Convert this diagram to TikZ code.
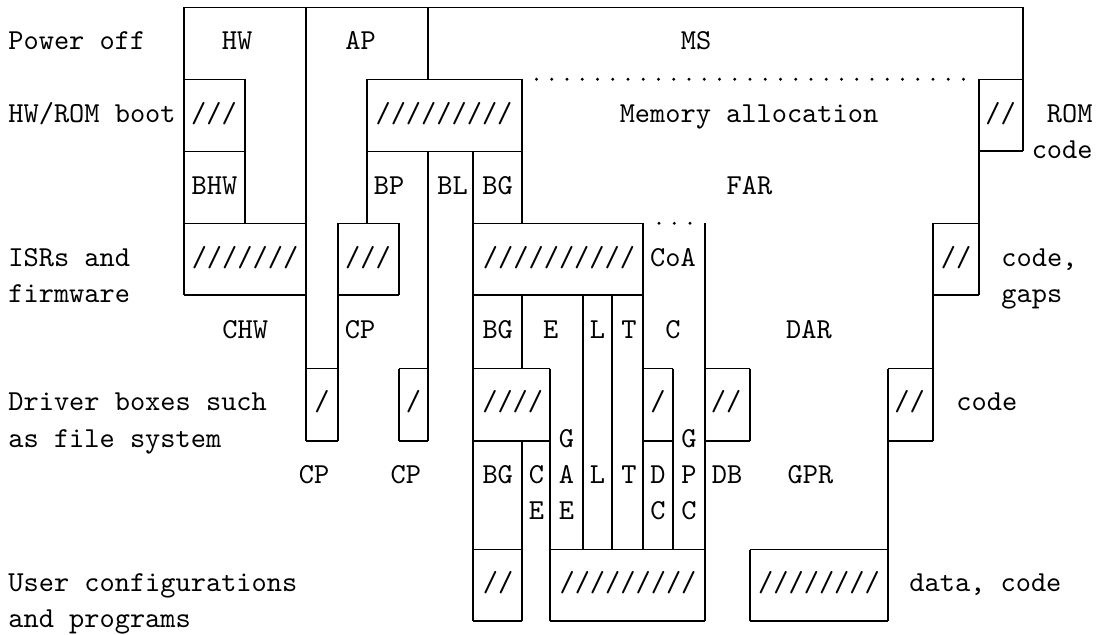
\documentclass[tikz,border=0pt]{standalone}
\usepackage{fontspec}
\newfontfamily\tenmono{lmmono10-regular.otf}
\newcommand\fs{\fontsize{14.48}{18}\selectfont\tenmono}
\begin{document}
\begin{tikzpicture}[x=0.5pt,y=-0.5pt,
  thinln/.style={line width=0.65pt},
  thickln/.style={line width=1.05pt},
  lbl/.style={inner sep=0pt,font=\fs,anchor=base},
  lft/.style={lbl,anchor=base west},
  rgt/.style={lbl,anchor=base east}]
\useasboundingbox (0,0) rectangle (1098,635);
% horizontal thin lines
\draw[thinln] (184,7.3)--(1023,7.3);
\draw[thinln] (184,79.3)--(245,79.3) (367,79.3)--(522,79.3) (979,79.3)--(1023,79.3);
\draw[thinln] (184,151.3)--(245,151.3) (367,151.3)--(522,151.3);
\draw[thinln] (184,223.3)--(306,223.3) (338,223.3)--(399,223.3) (473,223.3)--(643,223.3) (933,223.3)--(979,223.3);
\draw[thinln] (473,295)--(643,295);
\draw[thinln] (306,368.8)--(338,368.8) (399,368.8)--(428,368.8) (473,368.8)--(550,368.8)
  (643,368.8)--(673,368.8) (705,368.8)--(750,368.8) (888,368.8)--(933,368.8);
\draw[thinln] (473,441)--(522,441) (643,441)--(673,441);
\draw[thinln] (473,549.8)--(522,549.8) (550,549.8)--(705,549.8) (750,549.8)--(888,549.8);
% horizontal thick lines
\draw[thickln] (979,151.3)--(1023,151.3);
\draw[thickln] (184,295)--(306,295) (338,295)--(399,295) (933,295)--(979,295);
\draw[thickln] (306,441)--(338,441) (399,441)--(428,441) (522,441)--(550,441)
  (705,441)--(750,441) (888,441)--(933,441);
\draw[thickln] (473,621)--(522,621) (550,621)--(705,621) (750,621)--(888,621);
% vertical lines
\draw[thinln] (184,7.3)--(184,295);
\draw[thinln] (245,79.3)--(245,223.3);
\draw[thinln] (306,7.3)--(306,441);
\draw[thinln] (338,223.3)--(338,441);
\draw[thinln] (367,79.3)--(367,223.3);
\draw[thinln] (399,223.3)--(399,295) (399,368.8)--(399,441);
\draw[thinln] (428,7.3)--(428,79.3) (428,151.3)--(428,441);
\draw[thinln] (473,151.3)--(473,621);
\draw[thinln] (522,79.3)--(522,223.3) (522,295)--(522,368.8) (522,441)--(522,621);
\draw[thinln] (550,368.8)--(550,621);
\draw[thinln] (583,295)--(583,549.8);
\draw[thinln] (612,295)--(612,549.8);
\draw[thinln] (643,223.3)--(643,549.8);
\draw[thinln] (673,368.8)--(673,549.8);
\draw[thinln] (705,223.3)--(705,621);
\draw[thinln] (750,368.8)--(750,441) (750,549.8)--(750,621);
\draw[thinln] (888,368.8)--(888,621);
\draw[thinln] (933,223.3)--(933,441);
\draw[thinln] (979,79.3)--(979,295);
\draw[thinln] (1023,7.3)--(1023,151.3);
% dotted lines
\foreach \i in {0,...,28} \fill ({536.5+15.25*\i},79.3) circle[radius=0.8pt];
\foreach \xx in {659,674.3,690} \fill (\xx,223.3) circle[radius=0.8pt];
% left labels
\node[lft] (l1) at (8,50) {Power off};
\node[lft] (l2) at (8,122.2) {HW/ROM boot};
\node[lft] (l3) at (8,266.6) {ISRs and};
\node[lft] (l4) at (8,302.7) {firmware};
\node[lft] (l5) at (8,411) {Driver boxes such};
\node[lft] (l6) at (8,447.1) {as file system};
\node[lft] (l7) at (8,591.5) {User configurations};
\node[lft] (l8) at (8,627.6) {and programs};
% row 1
\node[lbl] (hw) at (237,50) {HW};
\node[lbl] (ap) at (360.5,50) {AP};
\node[lbl] (ms) at (696,50) {MS};
% row 3
\node[lbl] (s1) at (214,122.2) {///};
\node[lbl] (s2) at (444,122.2) {/////////};
\node[lbl] (mem) at (749,122.2) {Memory allocation};
\node[lbl] (s3) at (1000.5,122.2) {//};
\node[rgt] (rom) at (1093,122.2) {ROM};
\node[rgt] (code1) at (1093,158.3) {code};
% row 5
\node[lbl] (bhw) at (214.5,194.4) {BHW};
\node[lbl] (bp) at (389,194.4) {BP};
\node[lbl] (bl) at (452.5,194.4) {BL};
\node[lbl] (bg1) at (497.5,194.4) {BG};
\node[lbl] (far) at (749.5,194.4) {FAR};
% row 7
\node[lbl] (s4) at (245,266.6) {///////};
\node[lbl] (s5) at (368,266.6) {///};
\node[lbl] (s6) at (559,266.6) {//////////};
\node[lbl] (coa) at (673,266.6) {CoA};
\node[lbl] (s7) at (956,266.6) {//};
\node[lft] (code2) at (1001,266.6) {code,};
\node[lft] (gaps) at (1001,302.7) {gaps};
% row 9
\node[lbl] (chw) at (245.3,338.8) {CHW};
\node[lbl] (cp1) at (360,338.8) {CP};
\node[lbl] (bg2) at (497.7,338.8) {BG};
\node[lbl] (e1) at (550.7,338.8) {E};
\node[lbl] (l9) at (597.5,338.8) {L};
\node[lbl] (t1) at (629,338.8) {T};
\node[lbl] (c1) at (673,338.8) {C};
\node[lbl] (dar) at (809,338.8) {DAR};
% row 11
\node[lbl] (s8) at (322,411) {/};
\node[lbl] (s9) at (413.5,411) {/};
\node[lbl] (s10) at (512.7,411) {////};
\node[lbl] (s11) at (658,411) {/};
\node[lbl] (s12) at (726,411) {//};
\node[lbl] (s13) at (909.5,411) {//};
\node[lft] (code3) at (956,411) {code};
% rows 12-14
\node[lbl] (g1) at (566.5,447.1) {G};
\node[lbl] (a1) at (566.5,483.2) {A};
\node[lbl] (e2) at (566.5,519.3) {E};
\node[lbl] (g2) at (689,447.1) {G};
\node[lbl] (p1) at (689,483.2) {P};
\node[lbl] (c2) at (689,519.3) {C};
\node[lbl] (cp2) at (314,483.2) {CP};
\node[lbl] (cp3) at (405.8,483.2) {CP};
\node[lbl] (bg3) at (497.7,483.2) {BG};
\node[lbl] (c3) at (536.5,483.2) {C};
\node[lbl] (e3) at (536.5,519.3) {E};
\node[lbl] (l10) at (597.5,483.2) {L};
\node[lbl] (t2) at (629,483.2) {T};
\node[lbl] (d1) at (658,483.2) {D};
\node[lbl] (c4) at (658,519.3) {C};
\node[lbl] (db) at (727,483.2) {DB};
\node[lbl] (gpr) at (810.5,483.2) {GPR};
% row 16
\node[lbl] (s14) at (498,591.5) {//};
\node[lbl] (s15) at (628,591.5) {/////////};
\node[lbl] (s16) at (819,591.5) {////////};
\node[lft] (data) at (909,591.5) {data, code};
\end{tikzpicture}
\end{document}
